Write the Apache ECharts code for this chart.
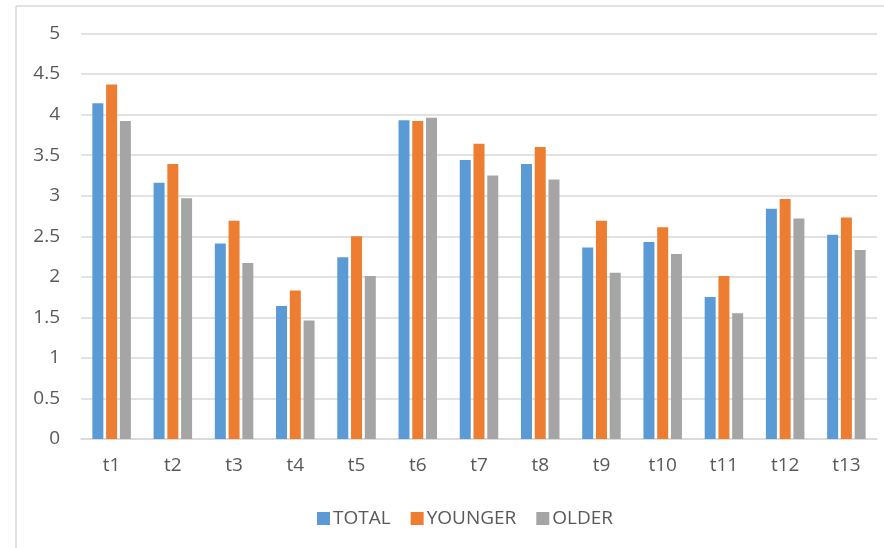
<!DOCTYPE html>
<html>
<head>
<meta charset="utf-8">
<script src="https://cdn.jsdelivr.net/npm/echarts@6/dist/echarts.min.js"></script>
<style>html,body{margin:0;padding:0;background:#fff;}#c{width:884px;height:548px;}</style>
</head>
<body>
<div id="c"></div>
<script>
const categories = ['t1','t2','t3','t4','t5','t6','t7','t8','t9','t10','t11','t12','t13'];
const total   = [4.14, 3.16, 2.41, 1.64, 2.24, 3.93, 3.44, 3.39, 2.36, 2.43, 1.75, 2.84, 2.52];
const younger = [4.37, 3.39, 2.69, 1.83, 2.50, 3.92, 3.64, 3.60, 2.69, 2.61, 2.01, 2.96, 2.73];
const older   = [3.92, 2.97, 2.17, 1.46, 2.01, 3.96, 3.25, 3.20, 2.05, 2.28, 1.55, 2.72, 2.33];
const seriesNames = ['TOTAL','YOUNGER','OLDER'];
const yTicks = {min: 0, max: 5, interval: 0.5};

const font = '"Open Sans", "Liberation Sans", sans-serif';
const txt = '#595959';
const chart = echarts.init(document.getElementById('c'), null, {renderer: 'canvas'});
const colors = ['#5B9BD5', '#ED7D31', '#A5A5A5'];
const data = [total, younger, older];
chart.setOption({
  animation: false,
  backgroundColor: '#ffffff',
  textStyle: {fontFamily: font},
  graphic: [
    {type: 'line', shape: {x1: 16, y1: 6, x2: 16, y2: 548}, style: {stroke: '#D9D9D9', lineWidth: 1.5}},
    {type: 'line', shape: {x1: 16, y1: 6, x2: 884, y2: 6}, style: {stroke: '#D9D9D9', lineWidth: 1.5}}
  ],
  grid: {left: 81, right: 7, top: 33.5, bottom: 109, containLabel: false},
  legend: {
    data: seriesNames,
    left: 312, top: 504,
    itemWidth: 13, itemHeight: 13, itemGap: 20,
    icon: 'rect',
    textStyle: {color: txt, fontSize: 19, fontFamily: font, padding: [0,0,0,-2]}
  },
  xAxis: {
    type: 'category',
    data: categories,
    axisLine: {lineStyle: {color: '#D9D9D9', width: 1.5}},
    axisTick: {show: false},
    axisLabel: {color: txt, fontSize: 19, fontFamily: font, margin: 17}
  },
  yAxis: {
    type: 'value',
    min: yTicks.min, max: yTicks.max, interval: yTicks.interval,
    axisLine: {show: false},
    axisTick: {show: false},
    splitLine: {lineStyle: {color: '#D9D9D9', width: 1.5}},
    axisLabel: {color: txt, fontSize: 19, fontFamily: font, margin: 21}
  },
  series: seriesNames.map((n, i) => ({
    name: n,
    type: 'bar',
    data: data[i],
    barWidth: 11,
    barGap: '25%',
    itemStyle: {color: colors[i]}
  }))
});
</script>
</body>
</html>
